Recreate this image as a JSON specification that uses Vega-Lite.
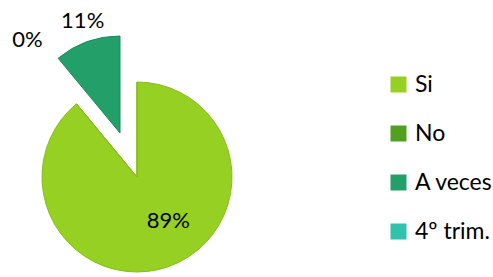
{
  "$schema": "https://vega.github.io/schema/vega-lite/v6.json",
  "autosize": {"type": "none"},
  "width": 274,
  "height": 198,
  "padding": {"left": 0, "top": 78, "right": 219, "bottom": 1},
  "background": "white",
  "config": {"view": {"stroke": null}},
  "data": {"values": [
    {"cat": "Si", "value": 0.89},
    {"cat": "No", "value": 0.0},
    {"cat": "A veces", "value": 0.11},
    {"cat": "4º trim.", "value": 0.0}
  ]},
  "encoding": {
    "theta": {"field": "value", "type": "quantitative", "stack": true},
    "order": {"field": "cat", "type": "ordinal", "sort": "descending"}
  },
  "layer": [
    {
      "mark": {"type": "arc", "outerRadius": 95, "stroke": "#86bd1a", "strokeWidth": 1},
      "encoding": {
        "color": {"field": "cat", "type": "nominal",
          "scale": {"domain": ["Si", "No", "A veces", "4º trim."], "range": ["#96d022", "#52a020", "#23a06a", "#30c2ad"]},
          "legend": {"title": null, "orient": "none", "legendX": 387, "legendY": -5, "padding": 0, "symbolType": "square", "symbolSize": 256, "symbolStrokeWidth": 0, "labelFont": "Lato", "labelFontSize": 23, "labelColor": "#000", "rowPadding": 25, "labelOffset": 5}},
        "opacity": {"condition": {"test": "datum.cat === 'A veces'", "value": 0}, "value": 1}
      }
    },
    {
      "mark": {"type": "arc", "outerRadius": 97, "xOffset": -17, "yOffset": -44, "stroke": "#1b8a5a", "strokeWidth": 1},
      "encoding": {
        "color": {"field": "cat", "type": "nominal"},
        "opacity": {"condition": {"test": "datum.cat === 'A veces'", "value": 1}, "value": 0}
      }
    },
    {
      "mark": {"type": "text", "radius": 60, "font": "Lato", "fontSize": 22, "color": "#000", "dx": 11, "dy": -12},
      "encoding": {
        "text": {"condition": {"test": "datum.cat === 'Si'", "field": "value", "type": "quantitative", "format": ".0%"}, "value": ""}
      }
    },
    {
      "mark": {"type": "text", "radius": 172, "font": "Lato", "fontSize": 22, "color": "#000", "dy": -4},
      "encoding": {
        "text": {"condition": {"test": "datum.cat === 'No'", "field": "value", "type": "quantitative", "format": ".0%"}, "value": ""}
      }
    },
    {
      "mark": {"type": "text", "radius": 119, "font": "Lato", "fontSize": 22, "color": "#000", "xOffset": -17, "yOffset": -44, "dx": 3},
      "encoding": {
        "text": {"condition": {"test": "datum.cat === 'A veces'", "field": "value", "type": "quantitative", "format": ".0%"}, "value": ""}
      }
    }
  ]
}
